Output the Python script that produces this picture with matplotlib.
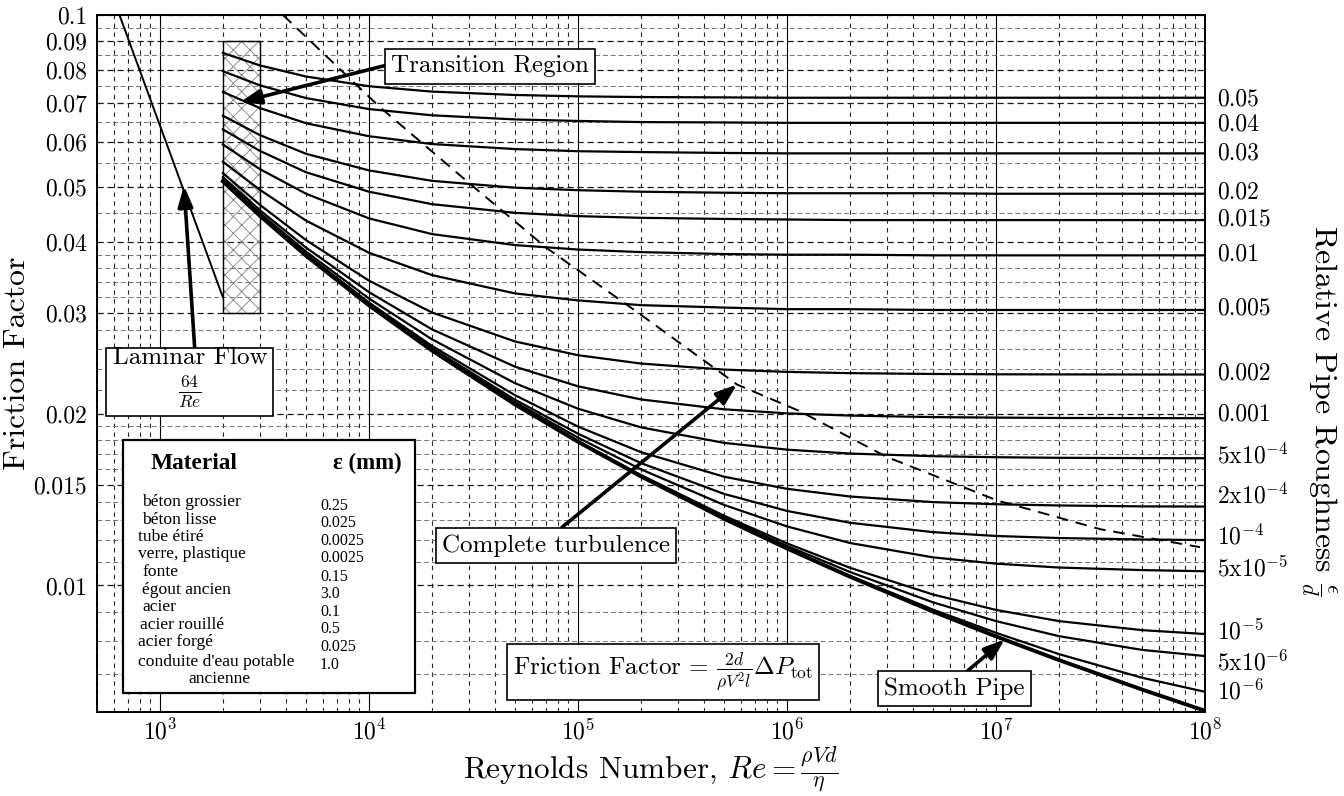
import numpy as np
import matplotlib
matplotlib.use("Agg")
import matplotlib.pyplot as plt
from matplotlib.patches import Rectangle
from matplotlib.transforms import blended_transform_factory

plt.rcParams['font.family'] = 'cmr10'
plt.rcParams['mathtext.fontset'] = 'cm'
plt.rcParams['axes.formatter.use_mathtext'] = True
plt.rcParams['hatch.linewidth'] = 0.6

re_points = [2e3, 3e3, 5e3, 1e4, 2e4, 5e4, 1e5, 2e5, 5e5, 1e6, 2e6, 5e6, 1e7, 2e7, 5e7, 1e8]

f_0p05 = [0.0858, 0.0816, 0.0780, 0.0750, 0.0734, 0.0724, 0.0720, 0.0718, 0.0717, 0.0716, 0.0716, 0.0716, 0.0716, 0.0716, 0.0716, 0.0716]
f_0p04 = [0.0797, 0.0753, 0.0715, 0.0684, 0.0667, 0.0656, 0.0652, 0.0649, 0.0648, 0.0647, 0.0647, 0.0647, 0.0647, 0.0647, 0.0647, 0.0647]
f_0p03 = [0.0733, 0.0687, 0.0646, 0.0613, 0.0594, 0.0582, 0.0577, 0.0575, 0.0573, 0.0572, 0.0572, 0.0572, 0.0572, 0.0572, 0.0572, 0.0572]
f_0p02 = [0.0666, 0.0616, 0.0571, 0.0534, 0.0512, 0.0498, 0.0493, 0.0490, 0.0488, 0.0487, 0.0487, 0.0487, 0.0486, 0.0486, 0.0486, 0.0486]
f_0p015 = [0.0630, 0.0578, 0.0530, 0.0490, 0.0466, 0.0450, 0.0444, 0.0441, 0.0439, 0.0438, 0.0437, 0.0437, 0.0437, 0.0437, 0.0437, 0.0437]
f_0p01 = [0.0593, 0.0537, 0.0486, 0.0440, 0.0413, 0.0395, 0.0388, 0.0384, 0.0381, 0.0380, 0.0380, 0.0379, 0.0379, 0.0379, 0.0379, 0.0379]
f_0p005 = [0.0553, 0.0494, 0.0436, 0.0383, 0.0350, 0.0325, 0.0316, 0.0310, 0.0307, 0.0305, 0.0305, 0.0304, 0.0304, 0.0304, 0.0304, 0.0304]
f_0p002 = [0.05283, 0.04650, 0.04030, 0.03422, 0.03010, 0.02677, 0.02533, 0.02449, 0.02390, 0.02368, 0.02356, 0.02348, 0.02345, 0.02344, 0.02343, 0.02343]
f_0p001 = [0.05197, 0.04551, 0.03910, 0.03267, 0.02812, 0.02418, 0.02234, 0.02119, 0.02036, 0.02003, 0.01985, 0.01973, 0.01969, 0.01966, 0.01965, 0.01964]
f_5em4 = [0.05153, 0.04500, 0.03848, 0.03184, 0.02701, 0.02262, 0.02041, 0.01893, 0.01778, 0.01730, 0.01703, 0.01685, 0.01678, 0.01674, 0.01672, 0.01671]
f_2em4 = [0.05127, 0.04470, 0.03810, 0.03133, 0.02630, 0.02155, 0.01899, 0.01713, 0.01551, 0.01477, 0.01432, 0.01400, 0.01388, 0.01381, 0.01376, 0.01375]
f_1em4 = [0.05118, 0.04459, 0.03797, 0.03115, 0.02606, 0.02116, 0.01845, 0.01639, 0.01447, 0.01351, 0.01288, 0.01240, 0.01221, 0.01211, 0.01204, 0.01201]
f_5em5 = [0.05114, 0.04454, 0.03791, 0.03106, 0.02594, 0.02096, 0.01816, 0.01598, 0.01384, 0.01269, 0.01187, 0.01120, 0.01092, 0.01075, 0.01064, 0.01059]
f_1em5 = [0.05110, 0.04450, 0.03786, 0.03099, 0.02583, 0.02080, 0.01792, 0.01562, 0.01325, 0.01185, 0.01074, 0.00964, 0.00906, 0.00866, 0.00835, 0.00822]
f_5em6 = [0.05110, 0.04450, 0.03785, 0.03098, 0.02582, 0.02078, 0.01789, 0.01558, 0.01317, 0.01173, 0.01056, 0.00934, 0.00866, 0.00815, 0.00771, 0.00752]
f_1em6 = [0.05109, 0.04449, 0.03784, 0.03098, 0.02581, 0.02076, 0.01787, 0.01554, 0.01311, 0.01163, 0.01040, 0.00907, 0.00826, 0.00758, 0.00689, 0.00651]
f_smooth = [0.05109, 0.04449, 0.03784, 0.03097, 0.02581, 0.02076, 0.01786, 0.01553, 0.01309, 0.01161, 0.01036, 0.00900, 0.00814, 0.00740, 0.00657, 0.00603]

rough_curves = [f_0p05, f_0p04, f_0p03, f_0p02, f_0p015, f_0p01, f_0p005, f_0p002,
                f_0p001, f_5em4, f_2em4, f_1em4, f_5em5, f_1em5, f_5em6, f_1em6]
rough_labels = ['0.05', '0.04', '0.03', '0.02', '0.015', '0.01', '0.005', '0.002', '0.001',
                '5x10$^{-4}$', '2x10$^{-4}$', '$10^{-4}$', '5x10$^{-5}$', '$10^{-5}$',
                '5x10$^{-6}$', '$10^{-6}$']
# small vertical nudges of the right labels (pixels, + is down)
label_dy = [2, 2, 0, -1, -1, -1, -2, -1, -4, -2, -11, -3, -3, -2, 7, 0]

# laminar line 64/Re, end points
laminar_re = [640, 2000]
laminar_f = [0.1, 0.032]

# dashed boundary of complete turbulence
bound_re = [3877, 11290, 30400, 71100, 198000, 577000, 1153000, 3.0e6, 1.01e7, 3.15e7, 9.46e7]
bound_f = [0.1, 0.0689, 0.0506, 0.0390, 0.0299, 0.0225, 0.0202, 0.0168, 0.0141, 0.01255, 0.01167]

# transition region (Re range, f range)
trans_re = [2000, 3000]
trans_f = [0.03, 0.09]

yticks = [0.01, 0.015, 0.02, 0.03, 0.04, 0.05, 0.06, 0.07, 0.08, 0.09, 0.1]
ytick_labels = ['0.01', '0.015', '0.02', '0.03', '0.04', '0.05', '0.06', '0.07', '0.08', '0.09', '0.1']
ygrid_minor = [0.006, 0.007, 0.008, 0.009, 0.011, 0.012, 0.013, 0.014, 0.016, 0.017, 0.018, 0.019,
               0.022, 0.024, 0.026, 0.028, 0.032, 0.034, 0.036, 0.038,
               0.045, 0.055, 0.065, 0.075, 0.085, 0.095]

materials = ['béton grossier', 'béton lisse', 'tube étiré', 'verre, plastique', 'fonte',
             'égout ancien', 'acier', 'acier rouillé', 'acier forgé', "conduite d'eau potable"]
eps_mm = ['0.25', '0.025', '0.0025', '0.0025', '0.15', '3.0', '0.1', '0.5', '0.025', '1.0']

fig = plt.figure(figsize=(13.44, 7.96), dpi=100)
ax = fig.add_axes([0.0722, 0.1055, 0.8244, 0.8757])
ax.set_xscale('log')
ax.set_yscale('log')
ax.set_xlim(500, 1e8)
ax.set_ylim(0.006, 0.1)

# grid
ax.set_xticks([1e3, 1e4, 1e5, 1e6, 1e7, 1e8])
xminor = [m * 10.0 ** k for k in range(2, 8) for m in range(2, 10)]
ax.set_xticks([v for v in xminor if 500 <= v <= 1e8], minor=True)
ax.set_yticks(yticks)
ax.set_yticklabels(ytick_labels)
ax.set_yticks(ygrid_minor, minor=True)
ax.yaxis.set_minor_formatter(matplotlib.ticker.NullFormatter())
ax.xaxis.set_minor_formatter(matplotlib.ticker.NullFormatter())
ax.grid(True, which='major', axis='x', color='k', ls='-', lw=0.8)
ax.grid(True, which='minor', axis='x', color='0.15', ls=(0, (4, 4)), lw=0.8)
ax.grid(True, which='major', axis='y', color='0.1', ls=(0, (5, 3)), lw=0.9)
ax.grid(True, which='minor', axis='y', color='0.45', ls=(0, (5, 3)), lw=0.7)
ax.set_axisbelow(True)
ax.tick_params(which='both', length=0, labelsize=17)
ax.tick_params(axis='x', pad=5)
ax.tick_params(axis='y', pad=7)
for s in ax.spines.values():
    s.set_linewidth(1.4)

# transition region
ax.add_patch(Rectangle((trans_re[0], trans_f[0]), trans_re[1] - trans_re[0], trans_f[1] - trans_f[0],
                       fill=False, hatch='xx', edgecolor='0.5', lw=0, zorder=2))
ax.add_patch(Rectangle((trans_re[0], trans_f[0]), trans_re[1] - trans_re[0], trans_f[1] - trans_f[0],
                       fill=False, edgecolor='k', lw=1.0, zorder=2))

# curves
for f in rough_curves:
    ax.plot(re_points, f, color='k', lw=1.6, zorder=3)
ax.plot(re_points, f_smooth, color='k', lw=2.8, zorder=3)
ax.plot(laminar_re, laminar_f, color='k', lw=1.4, zorder=3)
ax.plot(bound_re, bound_f, color='k', lw=1.4, ls=(0, (6, 4)), zorder=3)

# right-hand roughness labels
trans_r = blended_transform_factory(ax.transAxes, ax.transData)
for f, lab, dy in zip(rough_curves, rough_labels, label_dy):
    ax.annotate(lab, xy=(1.011, f[-1]), xycoords=trans_r, xytext=(0, -dy * 0.72),
                textcoords='offset points', va='center', ha='left', fontsize=17,
                annotation_clip=False)

fig.text(0.981, 0.485, r'Relative Pipe Roughness $\frac{\epsilon}{d}$', rotation=270,
         ha='center', va='center', fontsize=23)

ax.set_xlabel(r'Reynolds Number, $Re = \frac{\rho V d}{\eta}$', fontsize=22.5)
ax.xaxis.set_label_coords(0.5, -0.046)
ax.set_ylabel('Friction Factor', fontsize=23)
ax.yaxis.set_label_coords(-0.06, 0.5)

# annotations
box = dict(boxstyle='square,pad=0.25', fc='white', ec='k', lw=1.2)
arrow = dict(arrowstyle='-|>,head_length=0.5,head_width=0.18', mutation_scale=25,
             color='k', lw=2.6, shrinkA=0, shrinkB=0)

ax.annotate('Transition Region', xy=(2415, 0.0703), xytext=(37900, 0.0813), fontsize=18,
            ha='center', va='center', bbox=box, arrowprops=dict(arrow, relpos=(0, 0.6)), zorder=6)
ax.annotate('Laminar Flow\n' + r'$\frac{64}{Re}$', xy=(1303, 0.0502), xytext=(1392, 0.0231),
            fontsize=18, ha='center', va='center', multialignment='center', bbox=box,
            arrowprops=dict(arrow, relpos=(0.53, 1)), zorder=6)
ax.annotate('Complete turbulence', xy=(577000, 0.0225), xytext=(78500, 0.01176), fontsize=18,
            ha='center', va='center', bbox=box, arrowprops=dict(arrow, relpos=(0.49, 1)), zorder=6)
ax.annotate('Smooth Pipe', xy=(1.1e7, 0.00804), xytext=(6.3e6, 0.00659), fontsize=18,
            ha='center', va='center', bbox=box, arrowprops=dict(arrow, relpos=(0.54, 1)), zorder=6)
ax.text(255000, 0.00706, r'Friction Factor = $\frac{2d}{\rho V^2 l}\Delta P_{\mathrm{tot}}$',
        fontsize=18, ha='center', va='center', bbox=box, zorder=6)

# materials table (positions in pixels of the axes box, converted to axes fractions)
def ax_xy(px, py):
    return (px - 97) / 1108, (712 - py) / 697

ax.add_patch(Rectangle((0.0235, 0.0273), 0.2635, 0.3627, transform=ax.transAxes,
                       fc='white', ec='k', lw=1.6, zorder=5))
tfont = ['Liberation Serif', 'DejaVu Serif']
ax.text(*ax_xy(151, 463), 'Material', transform=ax.transAxes, fontsize=16.8, fontweight='bold',
        family=tfont, va='center', zorder=6)
ax.text(*ax_xy(333, 463), 'ε (mm)', transform=ax.transAxes, fontsize=16.5, fontweight='bold',
        family=tfont, va='center', zorder=6)
name_y = [502, 520, 537, 554, 572, 590, 607, 625, 642, 662]
name_x = [142, 142, 138, 138, 142, 142, 142, 140, 138, 138]
val_y = [506, 523, 541, 558, 577, 594, 612, 629, 647, 665]
for nx, ny, vy, name, e in zip(name_x, name_y, val_y, materials, eps_mm):
    ax.text(*ax_xy(nx, ny), name, transform=ax.transAxes, fontsize=12.6,
            family=tfont, va='center', zorder=6)
    ax.text(*ax_xy(320, vy), e, transform=ax.transAxes, fontsize=11.5,
            family=tfont, va='center', zorder=6)
ax.text(*ax_xy(188, 679), 'ancienne', transform=ax.transAxes, fontsize=12.6,
        family=tfont, va='center', zorder=6)

fig.savefig('out.png', dpi=100)
